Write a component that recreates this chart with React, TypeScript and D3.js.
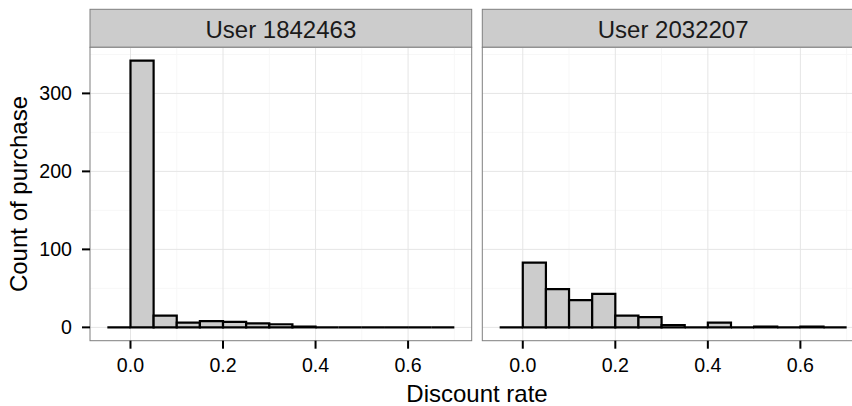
import React from 'react'
import * as d3 from 'd3'

// histogram bins: start of each 0.05-wide bin
const binStarts = [-0.05, 0, 0.05, 0.1, 0.15, 0.2, 0.25, 0.3, 0.35, 0.4, 0.45, 0.5, 0.55, 0.6, 0.65]
const binWidth = 0.05

const users = ['User 1842463', 'User 2032207']
const countsUser1 = [0, 342, 15, 6, 8, 7, 5, 4, 1, 0, 0, 0, 0, 0, 0]
const countsUser2 = [0, 83, 49, 35, 43, 15, 13, 3, 0, 6, 0, 1, 0, 1, 0]

const xMajor = [0, 0.2, 0.4, 0.6]
const xMinor = [0.1, 0.3, 0.5, 0.7]
const yMajor = [0, 100, 200, 300]
const yMinor = [50, 150, 250, 350]

const FONT = '"Liberation Sans", Arial, Helvetica, sans-serif'

const W = 852
const H = 406
const panelTop = 47.3
const panelBottom = 340.7
const stripTop = 9.3
const panelWidth = 381.7
const panelLefts = [90, 482.3]

// bar outline as a path so zero-count bins still draw a flat line
const barPath = (x0, x1, y0, y1) => {
  const p = d3.path()
  p.moveTo(x0, y0)
  p.lineTo(x0, y1)
  p.lineTo(x1, y1)
  p.lineTo(x1, y0)
  p.closePath()
  return p.toString()
}

const Panel = ({ left, label, counts, y }) => {
  const xMin = binStarts[0]
  const xMax = binStarts[binStarts.length - 1] + binWidth
  const pad = (xMax - xMin) * 0.05
  const x = d3.scaleLinear()
    .domain([xMin - pad, xMax + pad])
    .range([left, left + panelWidth])

  return (
    <g>
      {/* strip */}
      <rect x={left} y={stripTop} width={panelWidth} height={panelTop - stripTop}
        fill="#cccccc" stroke="#7f7f7f" strokeWidth={1} />
      <text x={left + panelWidth / 2} y={37.6} textAnchor="middle"
        fontSize={24} fontFamily={FONT} fill="#1a1a1a">{label}</text>

      {/* panel bg + grid */}
      <rect x={left} y={panelTop} width={panelWidth} height={panelBottom - panelTop} fill="white" />
      {yMinor.map((v) => (
        <line key={'ym' + v} x1={left} x2={left + panelWidth} y1={y(v)} y2={y(v)}
          stroke="#f7f7f7" strokeWidth={1} />
      ))}
      {xMinor.map((v) => (
        <line key={'xm' + v} x1={x(v)} x2={x(v)} y1={panelTop} y2={panelBottom}
          stroke="#f7f7f7" strokeWidth={1} />
      ))}
      {yMajor.map((v) => (
        <line key={'yM' + v} x1={left} x2={left + panelWidth} y1={y(v)} y2={y(v)}
          stroke="#e5e5e5" strokeWidth={1} />
      ))}
      {xMajor.map((v) => (
        <line key={'xM' + v} x1={x(v)} x2={x(v)} y1={panelTop} y2={panelBottom}
          stroke="#e5e5e5" strokeWidth={1} />
      ))}

      {/* bars */}
      {binStarts.map((b, i) => (
        <path key={b}
          d={barPath(x(b), x(b + binWidth), y(0), y(counts[i]))}
          fill="#cccccc" stroke="black" strokeWidth={2.2} strokeLinejoin="miter" />
      ))}

      {/* border */}
      <rect x={left} y={panelTop} width={panelWidth} height={panelBottom - panelTop}
        fill="none" stroke="#7f7f7f" strokeWidth={1} />

      {/* x axis */}
      {xMajor.map((v) => (
        <g key={'xt' + v}>
          <line x1={x(v)} x2={x(v)} y1={panelBottom} y2={panelBottom + 8}
            stroke="black" strokeWidth={2} />
          <text x={x(v)} y={372} textAnchor="middle" fontSize={19.6}
            fontFamily={FONT} fill="black">{d3.format('.1f')(v)}</text>
        </g>
      ))}
    </g>
  )
}

export default function App() {
  const maxCount = d3.max([...countsUser1, ...countsUser2])
  const y = d3.scaleLinear()
    .domain([-maxCount * 0.05, maxCount * 1.05])
    .range([panelBottom, panelTop])

  return (
    <svg width={W} height={H} style={{ position: 'absolute', left: 0, top: 0, background: 'white' }}>
      <rect x={0} y={0} width={W} height={H} fill="white" />
      <Panel left={panelLefts[0]} label={users[0]} counts={countsUser1} y={y} />
      <Panel left={panelLefts[1]} label={users[1]} counts={countsUser2} y={y} />

      {/* y axis */}
      {yMajor.map((v) => (
        <g key={'yt' + v}>
          <line x1={panelLefts[0] - 8} x2={panelLefts[0]} y1={y(v)} y2={y(v)}
            stroke="black" strokeWidth={2} />
          <text x={72} y={y(v)} dy="0.36em" textAnchor="end" fontSize={19.6}
            fontFamily={FONT} fill="black">{v}</text>
        </g>
      ))}

      <text x={477} y={402} textAnchor="middle" fontSize={24} fontFamily={FONT}
        fill="black">Discount rate</text>
      <text transform={`translate(27,${(panelTop + panelBottom) / 2}) rotate(-90)`}
        textAnchor="middle" fontSize={24} fontFamily={FONT} fill="black">Count of purchase</text>
    </svg>
  )
}
